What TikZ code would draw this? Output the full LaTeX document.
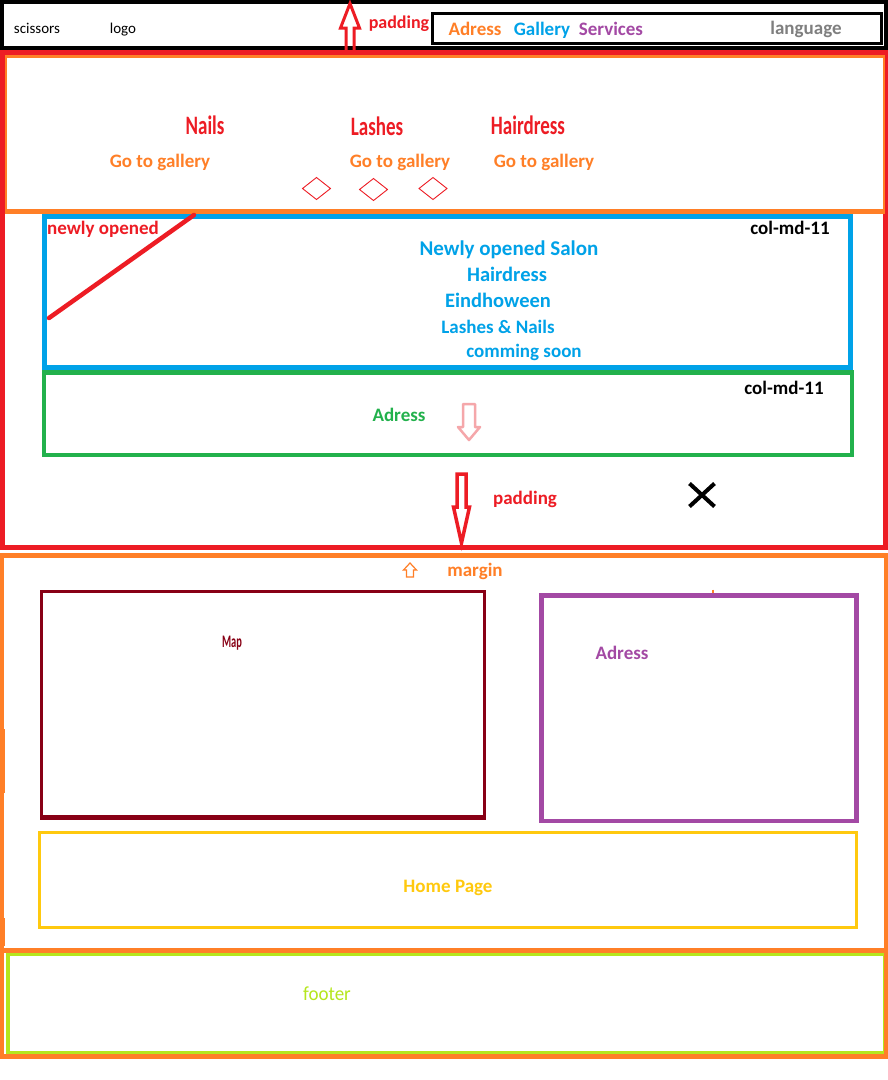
\documentclass[tikz,border=0pt]{standalone}
\usepackage{fontspec}
\setmainfont{Carlito}
\definecolor{pRed}{HTML}{ED1C24}
\definecolor{pOrange}{HTML}{FF7F27}
\definecolor{pBlue}{HTML}{00A2E8}
\definecolor{pGreen}{HTML}{22B14C}
\definecolor{pPurple}{HTML}{A349A4}
\definecolor{pDarkRed}{HTML}{880015}
\definecolor{pYellow}{HTML}{FFC90E}
\definecolor{pLime}{HTML}{B5E61D}
\definecolor{pGray}{HTML}{7F7F7F}
\definecolor{pPink}{HTML}{F5A7AA}
\begin{document}
\begin{tikzpicture}[x=1pt,y=-1pt,
  lbl/.style={inner sep=0pt, anchor=base, font=\fontsize{19}{19}\selectfont\bfseries},
  plain/.style={inner sep=0pt, anchor=base, font=\fontsize{15}{15}\selectfont},
  frame/.style={line join=miter}]
\useasboundingbox[fill=white] (0,0) rectangle (888,1080);

% ---- header bar
\draw[frame, black, line width=4.5pt] (2.2,2) rectangle (885.8,48);
\draw[frame, black, line width=3pt] (432,13.5) rectangle (881.5,43.5);
\node[plain] (scissors) at (37,33) {scissors};
\node[plain] (logo) at (123,33) {logo};
\node[lbl, pRed, font=\fontsize{18}{18}\selectfont\bfseries] (padTop) at (399,28) {padding};
\node[lbl, pOrange] (navAdress) at (475,35) {Adress};
\node[lbl, pBlue] (navGallery) at (542,35) {Gallery};
\node[lbl, pPurple] (navServices) at (611,35) {Services};
\node[lbl, pGray] (navLang) at (806,34) {language};
% hollow arrow pointing up
\draw[pRed, line width=3pt, line join=miter]
  (346,52) -- (346,28) -- (340.5,28) -- (350,3.5) -- (359.5,28) -- (354,28) -- (354,52);

% ---- main section
\draw[frame, pRed, line width=5pt] (2.5,52.5) rectangle (885.5,547.5);
\draw[frame, pOrange, line width=2.5pt] (6,56.5) rectangle (884,211);
\draw[pOrange, line width=4.5pt] (5,211.5) -- (885,211.5);

\node[lbl, pRed] (nails) at (205,134) {\scalebox{1}[1.4]{Nails}};
\node[lbl, pRed] (lashes) at (377,135) {\scalebox{1}[1.4]{Lashes}};
\node[lbl, pRed] (hair) at (528,134) {\scalebox{1}[1.4]{Hairdress}};
\node[lbl, pOrange] (gal1) at (160,167) {Go to gallery};
\node[lbl, pOrange] (gal2) at (400,167) {Go to gallery};
\node[lbl, pOrange] (gal3) at (544,167) {Go to gallery};
\foreach \cx/\cy in {316.5/188.5, 373.5/189.5, 433/188.5}
  \draw[pRed, line width=0.9pt] (\cx-14,\cy) -- (\cx,\cy-11) -- (\cx+14,\cy) -- (\cx,\cy+11) -- cycle;

% newly opened block
\draw[frame, pBlue, line width=5pt] (44.5,216.5) rectangle (850.5,367.5);
\coordinate (slashA) at (49,318);
\coordinate (slashB) at (194,215);
\draw[pRed, line width=4.5pt, line cap=round] (slashA) -- (slashB);
\node[lbl, pRed] (newly) at (103,234) {newly opened};
\node[lbl, black] (col1) at (790,234) {col-md-11};
\node[lbl, pBlue, font=\fontsize{21}{21}\selectfont\bfseries] (salon) at (509,255) {Newly opened Salon};
\node[lbl, pBlue, font=\fontsize{20.5}{21}\selectfont\bfseries] (salonHair) at (507,281) {Hairdress};
\node[lbl, pBlue, font=\fontsize{20.5}{21}\selectfont\bfseries] (salonCity) at (498,307) {Eindhoween};
\node[lbl, pBlue] (salonLN) at (498,333) {Lashes \& Nails};
\node[lbl, pBlue] (salonSoon) at (524,357) {comming soon};

% address block
\draw[frame, pGreen, line width=4.5pt] (44,372.5) rectangle (852,455);
\node[lbl, black] (col2) at (784,394) {col-md-11};
\node[lbl, pGreen] (adrGreen) at (399,421) {Adress};
\draw[pPink, line width=2.5pt, line join=round]
  (463,404) -- (463,427) -- (458,427) -- (469,440) -- (480,427) -- (475,427) -- (475,404) -- cycle;

% padding arrow down and cross
\draw[pRed, line width=3.5pt, line join=miter]
  (457,474) -- (457,507) -- (453.5,507) -- (461.5,543) -- (469.5,507) -- (466,507) -- (466,474) -- cycle;
\node[lbl, pRed] (padBottom) at (525,504) {padding};
\draw[black, line width=4pt] (689.5,483.5) -- (714.5,506.5);
\draw[black, line width=4pt] (714.5,483.5) -- (689.5,506.5);

% ---- lower section
\draw[frame, pOrange, line width=4.5pt] (2.2,555.5) rectangle (885.8,950.5);
\fill[pOrange] (0,729) rectangle (5,793);
\fill[pOrange] (0,918) rectangle (5,946);
\draw[pOrange, line width=1.2pt, line join=miter]
  (406.5,577) -- (406.5,570) -- (403.5,570) -- (410,563) -- (416.5,570) -- (413.5,570) -- (413.5,577) -- cycle;
\node[lbl, pOrange] (margin) at (475,576) {margin};

\draw[frame, pDarkRed, line width=3.5pt] (41.7,591.7) rectangle (484.3,816.5);
\draw[pDarkRed, line width=3pt] (40,818.5) -- (486,818.5);
\node[inner sep=0pt, anchor=base, pDarkRed, font=\fontsize{11}{11}\selectfont\bfseries] (map) at (232,647.5) {\scalebox{0.95}[1.6]{Map}};

\draw[frame, pPurple, line width=4.5pt] (541.5,595.5) rectangle (856.5,821);
\draw[pOrange, line width=1.5pt] (713,589.5) -- (713,593);
\node[lbl, pPurple] (adrPurple) at (622,659) {Adress};

\draw[frame, pYellow, line width=3pt] (39.5,832.5) rectangle (856.5,927.5);
\node[lbl, pYellow] (home) at (448,892) {Home Page};

% ---- footer
\draw[frame, pLime, line width=3pt] (8,954.5) rectangle (884,1052.5);
\draw[pLime, line width=4pt] (8,953) -- (8,1054);
\draw[frame, pOrange, line width=4.5pt] (2.2,950.5) rectangle (885.8,1056.5);
\node[inner sep=0pt, anchor=base, pLime, font=\fontsize{19}{19}\selectfont] (footer) at (327,1000) {\scalebox{1}[1.05]{footer}};
\end{tikzpicture}
\end{document}
